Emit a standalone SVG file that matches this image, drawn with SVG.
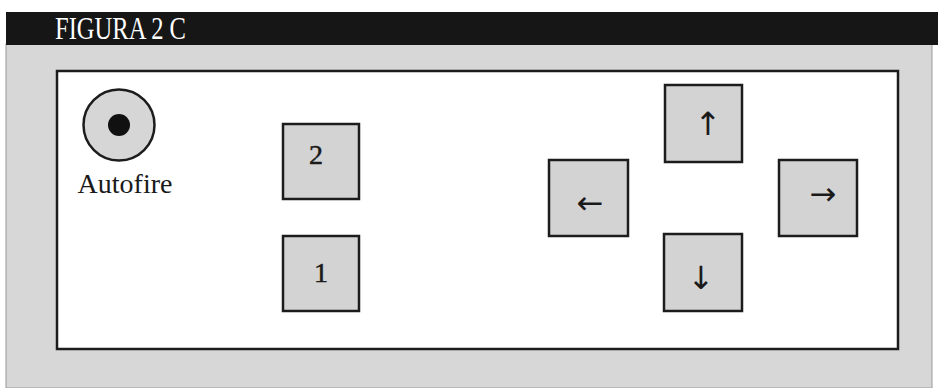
<svg xmlns="http://www.w3.org/2000/svg" width="944" height="388" viewBox="0 0 944 388">
<style>
.btn{fill:#d3d3d3;stroke:#1c1c1c;stroke-width:2.5}
.lbl{font-family:"Liberation Serif",serif;font-size:28px;fill:#1a1a1a;stroke:#1a1a1a;stroke-width:0.5;text-anchor:middle}
.arr{font-family:"DejaVu Sans",sans-serif;font-size:32px;fill:#1a1a1a;text-anchor:middle}
</style>
<rect x="0" y="0" width="944" height="388" fill="#ffffff"/>
<rect x="6" y="44" width="926" height="344" fill="#d7d7d7" stroke="#9a9a9a" stroke-width="1"/>
<g id="title">
<rect x="6" y="12" width="932" height="33" fill="#161616"/>
<text x="55" y="39" font-family="Liberation Serif,serif" font-size="31" fill="#ffffff" textLength="131" lengthAdjust="spacingAndGlyphs">FIGURA 2 C</text>
</g>
<g id="panel">
<rect x="57" y="71" width="841" height="278" fill="#ffffff" stroke="#1c1c1c" stroke-width="2.5"/>
</g>
<g id="autofire">
<circle cx="119" cy="125" r="35.5" fill="#d6d6d6" stroke="#1c1c1c" stroke-width="2.5"/>
<circle cx="119" cy="125" r="11" fill="#111111"/>
<text x="125" y="193" font-family="Liberation Serif,serif" font-size="28" fill="#1a1a1a" text-anchor="middle">Autofire</text>
</g>
<g id="button2">
<rect class="btn" x="283" y="124" width="76" height="75"/>
<text class="lbl" x="316" y="164">2</text>
</g>
<g id="button1">
<rect class="btn" x="283" y="236" width="76" height="75"/>
<text class="lbl" x="321" y="282">1</text>
</g>
<g id="up">
<rect class="btn" x="665" y="85" width="77" height="77"/>
<text class="arr" x="708" y="135">↑</text>
</g>
<g id="left">
<rect class="btn" x="549" y="160" width="79" height="76"/>
<text class="arr" x="590" y="214">←</text>
</g>
<g id="right">
<rect class="btn" x="779" y="160" width="78" height="76"/>
<text class="arr" x="823" y="205">→</text>
</g>
<g id="down">
<rect class="btn" x="664" y="234" width="78" height="77"/>
<text class="arr" x="701" y="289">↓</text>
</g>
<g id="connectors"></g>
</svg>
